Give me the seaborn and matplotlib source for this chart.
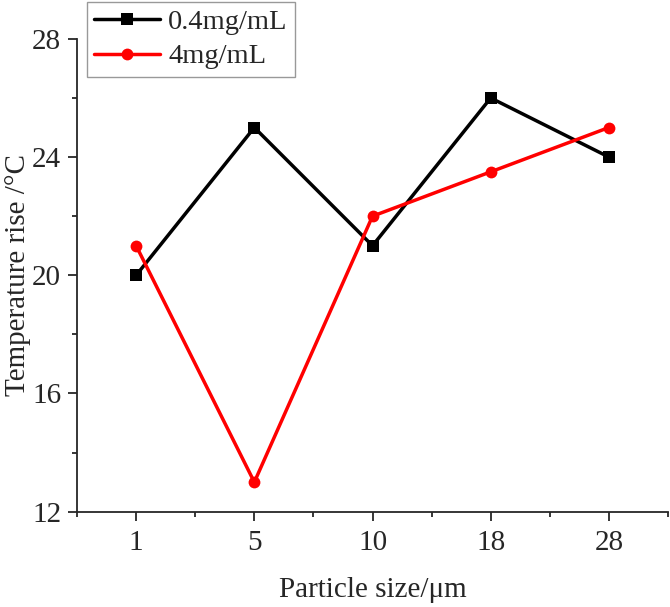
import numpy as np
import pandas as pd
import seaborn as sns
import matplotlib.pyplot as plt
from matplotlib.ticker import MultipleLocator

# Data
particle_sizes = ['1', '5', '10', '18', '28']
rise_low = [20, 25, 21, 26, 24]      # 0.4mg/mL
rise_high = [21, 13, 22, 23.5, 25]   # 4mg/mL
series_names = ['0.4mg/mL', '4mg/mL']

pos = np.arange(len(particle_sizes))
df = pd.DataFrame({
    'pos': np.concatenate([pos, pos]),
    'rise': rise_low + rise_high,
    'series': [series_names[0]] * len(pos) + [series_names[1]] * len(pos),
})

sns.set_style('ticks')
plt.rcParams['font.family'] = ['Liberation Serif', 'DejaVu Serif']

fig = plt.figure(figsize=(6.7, 6.07), dpi=100)
ax = fig.add_axes([0.115, 0.157, 0.882, 0.779])

sns.lineplot(data=df, x='pos', y='rise', hue='series', style='series',
             palette=['black', '#ff0000'], markers=['s', 'o'], dashes=False,
             linewidth=2.5, markersize=8.5, markeredgewidth=0, ax=ax)

ax.set_xlim(-0.5, 4.5)
ax.set_ylim(12, 28)
ax.set_xticks(pos)
ax.set_xticklabels(particle_sizes)
ax.xaxis.set_minor_locator(MultipleLocator(0.5))
ax.yaxis.set_major_locator(MultipleLocator(4))
ax.yaxis.set_minor_locator(MultipleLocator(2))
ax.tick_params(axis='both', which='major', direction='out', length=6.5, width=1.3,
               labelsize=21, pad=5)
ax.tick_params(axis='x', which='major', pad=7)
ax.tick_params(axis='both', which='minor', direction='out', length=3.5, width=1.3)
for s in ['top', 'right']:
    ax.spines[s].set_visible(False)
for s in ['left', 'bottom']:
    ax.spines[s].set_linewidth(1.3)

ax.set_xlabel('Particle size/μm', fontsize=21, labelpad=15)
ax.set_ylabel('Temperature rise /°C', fontsize=21, labelpad=1)

leg = ax.legend(loc='upper left', bbox_to_anchor=(0.017, 1.078), fontsize=20.5,
                frameon=True, fancybox=False, edgecolor='#808080',
                handlelength=2.3, borderpad=0.25, labelspacing=0.3,
                handletextpad=0.3, borderaxespad=0)
leg.get_frame().set_linewidth(1.0)

fig.savefig('out.png', dpi=100)
